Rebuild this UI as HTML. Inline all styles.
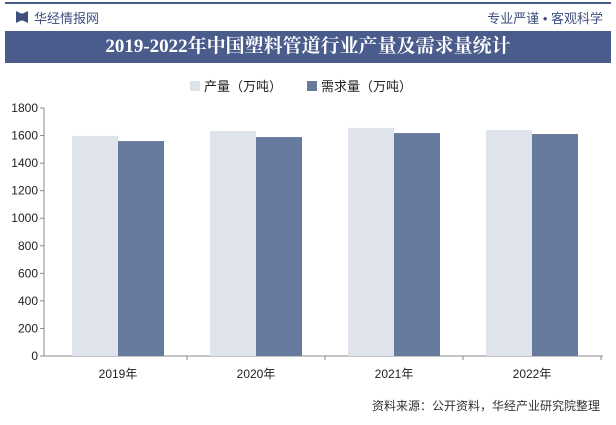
<!DOCTYPE html>
<html><head><meta charset="utf-8"><style>
body{margin:0;width:616px;height:425px;background:#fff;font-family:"Liberation Sans","Noto Sans CJK SC",sans-serif;overflow:hidden;position:relative}
.abs{position:absolute}
</style></head><body>
<div class="abs" style="left:5px;top:2px;width:606px;height:2px;background:#4a5c8c"></div>
<div class="abs" style="left:16px;top:11px;width:12px;height:12px;background:#3e4f7e;clip-path:polygon(0 0,40% 20%,60% 20%,100% 0,100% 100%,60% 80%,40% 80%,0 100%)"></div>
<div class="abs" style="left:34px;top:8px;font-size:13px;color:#3e4f7e">华经情报网</div>
<div class="abs" style="right:13px;top:8px;font-size:13px;color:#3e4f7e">专业严谨 • 客观科学</div>
<div class="abs" style="left:5px;top:31px;width:606px;height:32px;background:#4a5c8c;color:#fff;font-size:19px;font-weight:bold;text-align:center;line-height:32px;font-family:'Liberation Serif','Noto Serif CJK SC',serif">2019-2022年中国塑料管道行业产量及需求量统计</div>
<div class="abs" style="left:190px;top:76px;font-size:13px;color:#222"><span style="display:inline-block;width:10px;height:10px;background:#dfe3ec;margin-right:4px"></span>产量（万吨）</div>
<div class="abs" style="left:307px;top:76px;font-size:13px;color:#222"><span style="display:inline-block;width:10px;height:10px;background:#667a9e;margin-right:4px"></span>需求量（万吨）</div>
<svg class="abs" style="left:0;top:0" width="616" height="425" id="chart"></svg>
<div class="abs" style="right:16px;top:397px;font-size:12px;color:#333">资料来源：公开资料，华经产业研究院整理</div>
<script>
const years=["2019年","2020年","2021年","2022年"];
const production=[1597,1633,1655,1640];
const demand=[1560,1589,1618,1611];
const ticks=[0,200,400,600,800,1000,1200,1400,1600,1800];
const svg=document.getElementById('chart');const NS='http://www.w3.org/2000/svg';
const x0=49,gw=138,y0=356,yTop=108,maxV=1800;
const y=v=>y0-(v/maxV)*(y0-yTop);
function mk(t,a){const e=document.createElementNS(NS,t);for(const k in a)e.setAttribute(k,a[k]);svg.appendChild(e);return e;}
const ax=mk('line',{x1:44,y1:yTop,x2:44,y2:y0,stroke:'#888'});

const bx=mk('line',{x1:44,y1:y0,x2:603,y2:y0,stroke:'#888'});

ticks.forEach(t=>{const l=mk('line',{x1:40,y1:y(t),x2:44,y2:y(t),stroke:'#888'});

const tx=mk('text',{x:38,y:y(t)+4,'text-anchor':'end','font-size':12,fill:'#222'});tx.textContent=t;
});
years.forEach((yr,i)=>{const c=x0+gw*(i+0.5);
const r1=mk('rect',{x:c-46,y:y(production[i]),width:46,height:y0-y(production[i]),fill:'#dfe3ec'});

const r2=mk('rect',{x:c,y:y(demand[i]),width:46,height:y0-y(demand[i]),fill:'#667a9e'});

const tk=mk('line',{x1:x0+gw*(i+1),y1:y0,x2:x0+gw*(i+1),y2:y0+4,stroke:'#888'});

const tx=mk('text',{x:c,y:y0+22,'text-anchor':'middle','font-size':12,fill:'#222'});tx.textContent=yr;
});
</script>
</body></html>
